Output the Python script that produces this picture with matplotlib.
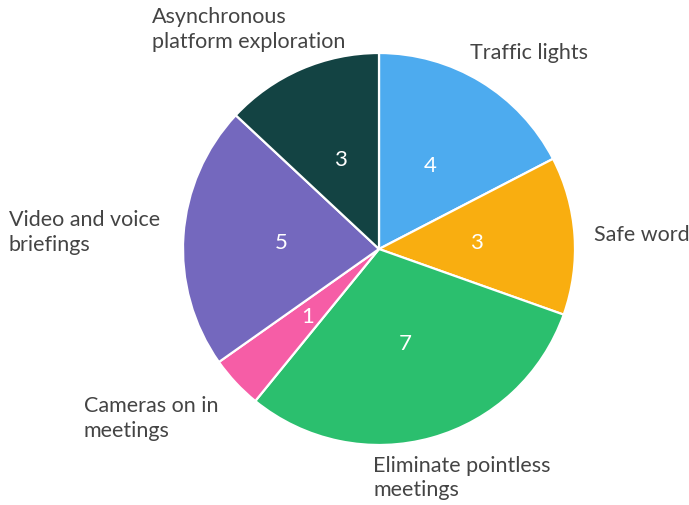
import matplotlib.pyplot as plt
import numpy as np

# data
labels = ["Traffic lights", "Safe word", "Eliminate pointless\nmeetings",
          "Cameras on in\nmeetings", "Video and voice\nbriefings",
          "Asynchronous\nplatform exploration"]
values = [4, 3, 7, 1, 5, 3]
colors = ["#4DABEF", "#F9AE10", "#2BBF6E", "#F65DA6", "#7468BE", "#134343"]

# label placement (alignment + pixel nudge from the 1.1r point)
label_ha = ["left", "left", "left", "right", "right", "center"]
label_va = ["center", "center", "top", "top", "center", "bottom"]
label_nudge = [(-21, 13), (0, 0), (-64, 2), (-3, 1), (-4, 3), (-44, 0)]

plt.rcParams['font.family'] = ['Lato', 'DejaVu Sans']

W, H = 689, 506
cx, cy, R = 379, 250, 196
fig = plt.figure(figsize=(W / 100, H / 100), dpi=100)
ax = fig.add_axes([0, 0, 1, 1])

wedges, _ = ax.pie(values, colors=colors, startangle=90, counterclock=False,
                   radius=1, center=(0, 0), frame=True,
                   wedgeprops=dict(edgecolor="white", linewidth=1.6))
ax.set_xlim(-cx / R, (W - cx) / R)
ax.set_ylim(-(H - cy) / R, cy / R)
ax.axis("off")

for w, v, lab, ha, va, (dx, dy) in zip(wedges, values, labels, label_ha, label_va, label_nudge):
    ang = np.deg2rad((w.theta1 + w.theta2) / 2)
    ax.text(0.5 * np.cos(ang), 0.5 * np.sin(ang), str(v), color="white",
            fontsize=16, ha="center", va="center")
    ax.annotate(lab, xy=(1.1 * np.cos(ang), 1.1 * np.sin(ang)),
                xytext=(dx * 0.72, dy * 0.72), textcoords="offset points",
                ha=ha, va=va, multialignment="left", fontsize=15.5,
                color="#444444", linespacing=1.3)

fig.savefig("out.png", dpi=100)
